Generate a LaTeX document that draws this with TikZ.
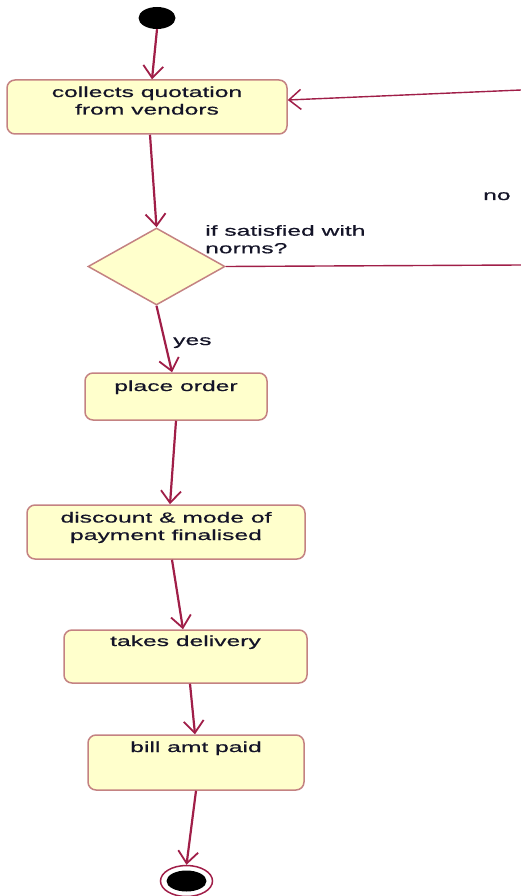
\documentclass[tikz,border=0pt]{standalone}
\usepackage{fontspec}
\setmainfont{Liberation Sans}[FakeStretch=1.7,FakeBold=0.6]
\usetikzlibrary{shapes.geometric,arrows.meta}
\definecolor{boxfill}{RGB}{255,255,204}
\definecolor{boxline}{RGB}{196,130,130}
\definecolor{arrowc}{RGB}{160,30,72}
\definecolor{txtc}{RGB}{20,20,40}
\begin{document}
\begin{tikzpicture}[x=1pt,y=-1pt,
  every node/.style={font=\fontsize{14.5}{17.5}\selectfont, text=txtc},
  act/.style={draw=boxline, fill=boxfill, rounded corners=8pt, line width=1.5pt, inner sep=0pt, align=center},
  decision/.style={diamond, draw=boxline, fill=boxfill, line width=1.5pt, inner sep=0pt, minimum width=137pt, minimum height=77pt},
  startst/.style={ellipse, fill=black, inner sep=0pt, minimum width=37pt, minimum height=22pt},
  endouter/.style={ellipse, draw=arrowc, fill=white, line width=1.5pt, inner sep=0pt, minimum width=52pt, minimum height=31pt},
  endinner/.style={ellipse, fill=black, inner sep=0pt, minimum width=40pt, minimum height=21pt},
  flow/.style={draw=arrowc, line width=2.2pt, -{Straight Barb[length=12pt,width=20pt,line width=1.8pt]}},
  loopline/.style={draw=arrowc, line width=1.4pt},
  looparrow/.style={draw=arrowc, line width=1.4pt, -{Straight Barb[length=12pt,width=20pt,line width=1.5pt]}},
  lbl/.style={inner sep=0pt, align=left}
]
\useasboundingbox (0,0) rectangle (521,896);
\node[startst] (start) at (157,18) {};
\node[act, minimum width=280pt, text height=34.5pt, text depth=19.5pt] (collect) at (147,107) {collects quotation\\from vendors};
\node[decision] (dia) at (156.5,266.5) {};
\node[lbl, anchor=north west] (q) at (205,225) {if satisfied with\\norms?};
\node[lbl, anchor=base west] (no) at (483,200) {no};
\node[lbl, anchor=base west] (yes) at (173,345) {yes};
\node[act, minimum width=182pt, text height=18pt, text depth=29pt] (order) at (176,396.5) {place order};
\node[act, minimum width=278pt, text height=35pt, text depth=19pt] (disc) at (166,532) {discount \& mode of\\payment finalised};
\node[act, minimum width=243pt, text height=16pt, text depth=37pt] (deliv) at (185.5,656.5) {takes delivery};
\node[act, minimum width=216pt, text height=17pt, text depth=38pt] (bill) at (196,762.5) {bill amt paid};
\node[endouter] (end) at (186.5,881) {};
\node[endinner] (endin) at (end.center) {};
\coordinate (r1) at (521,265);
\coordinate (r2) at (521,90);

\draw[flow] (start.south) -- ([xshift=5pt]collect.north);
\draw[flow] ([xshift=3pt]collect.south) -- (dia.north);
\draw[loopline] (dia.east) -- (r1);
\draw[looparrow] (r2) -- ([yshift=7pt]collect.east);
\draw[flow] (dia.south) -- ([xshift=-4pt]order.north);
\draw[flow] (order.south) -- ([xshift=4pt]disc.north);
\draw[flow] ([xshift=6pt]disc.south) -- ([xshift=-2.5pt]deliv.north);
\draw[flow] ([xshift=4.5pt]deliv.south) -- ([xshift=-1pt]bill.north);
\draw[flow] (bill.south) -- (end.north);
\end{tikzpicture}
\end{document}
